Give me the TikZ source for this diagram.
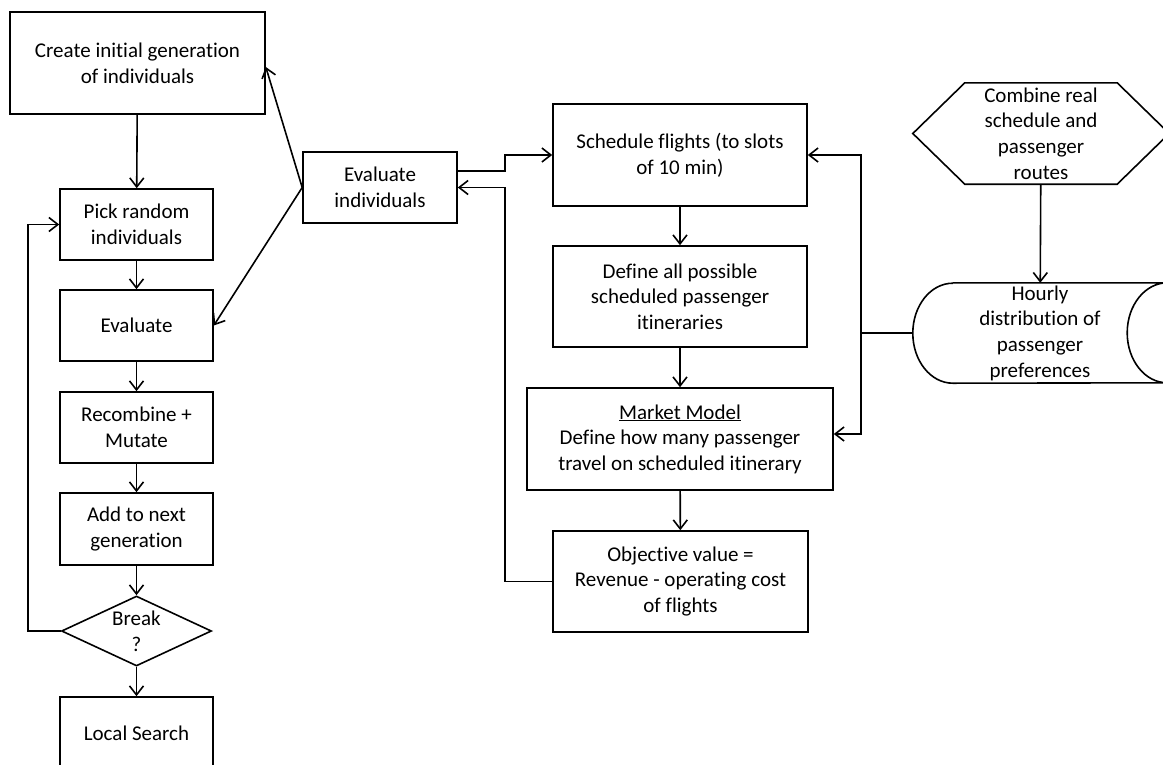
\documentclass[tikz,border=0pt]{standalone}
\usepackage{fontspec}
\setmainfont{Carlito}[Ligatures=NoCommon]
\usetikzlibrary{arrows.meta,shapes.geometric}
\begin{document}
\begin{tikzpicture}[x=1pt,y=-1pt,
  txt/.style={align=center,font=\fontsize{21}{25.6}\selectfont,inner sep=0pt},
  box/.style={txt,draw,line width=1.6pt},
  arr/.style={line width=1.6pt,-{Straight Barb[length=9pt,width=14pt]}},
  ln/.style={line width=1.6pt}]
\useasboundingbox (0,0) rectangle (1163,764);
% left column
\node[box,minimum width=255pt,minimum height=102pt] (create) at (137.5,63) {Create initial generation\\of individuals};
\node[box,minimum width=153pt,minimum height=71pt] (pick) at (136.5,224.5) {Pick random\\individuals};
\node[box,minimum width=153pt,minimum height=71pt] (evalL) at (136.5,325.5) {Evaluate};
\node[box,minimum width=153pt,minimum height=71pt] (recomb) at (136.5,427.5) {Recombine +\\Mutate};
\node[box,minimum width=153pt,minimum height=72pt] (add) at (136.5,529) {Add to next\\generation};
\node[box,shape=diamond,aspect=2.14,minimum width=150pt,minimum height=70pt] (brk) at (136.5,631) {Break\\?};
\node[box,minimum width=153pt,minimum height=72pt] (local) at (136.5,733) {Local Search};
% middle
\node[box,minimum width=154pt,minimum height=71pt] (evalI) at (380,187.5) {Evaluate\\individuals};
% right column
\node[box,minimum width=254pt,minimum height=102pt] (sched) at (680,155) {Schedule flights (to slots\\of 10 min)};
\node[box,minimum width=254pt,minimum height=101pt] (define) at (680,296.5) {Define all possible\\scheduled passenger\\itineraries};
\node[box,minimum width=306pt,minimum height=102pt] (market) at (680,439) {\underline{Market Model}\\Define how many passenger\\travel on scheduled itinerary};
\node[box,minimum width=255pt,minimum height=101pt] (obj) at (680.5,581.5) {Objective value =\\Revenue - operating cost\\of flights};
% far right
\node[txt,minimum width=256pt,minimum height=101pt] (hex) at (1041,133.5) {Combine real\\schedule and\\passenger\\routes};
\draw[ln] (hex.west) -- ([xshift=52pt]hex.north west) -- ([xshift=-52pt]hex.north east) -- (hex.east) -- ([xshift=-52pt]hex.south east) -- ([xshift=52pt]hex.south west) -- cycle;
\node[txt,minimum width=254pt,minimum height=100pt] (hourly) at (1040,333) {Hourly\\distribution of\\passenger\\preferences};
\draw[ln] ([xshift=40pt]hourly.north west) -- (hourly.north east)
  arc[start angle=90,end angle=270,x radius=40pt,y radius=50pt]
  -- ([xshift=40pt]hourly.south west)
  arc[start angle=270,end angle=90,x radius=40pt,y radius=50pt];
% connectors
\draw[arr] (create) -- (pick);
\draw[arr] (pick) -- (evalL);
\draw[arr] (evalL) -- (recomb);
\draw[arr] (recomb) -- (add);
\draw[arr] (add) -- (brk);
\draw[arr] (brk) -- (local);
\draw[arr] (brk.west) -- (28,631) |- (pick.west);
\draw[arr] (evalI.west) -- ([yshift=-4pt]create.east);
\draw[arr] (evalI.west) -- (evalL.east);
\draw[arr] ([yshift=16.5pt]evalI.east) -- (505,171) |- (sched.west);
\draw[arr] (obj.west) -- (505,581.5) |- (evalI.east);
\draw[arr] (sched) -- (define);
\draw[arr] (define) -- (market);
\draw[arr] (market) -- (obj);
\draw[arr] (hex) -- (hourly);
\coordinate (jn) at (861,333);
\draw[arr] (hourly.west) -- (jn) |- (sched.east);
\draw[arr] (jn) |- ([yshift=5pt]market.east);
\end{tikzpicture}
\end{document}
